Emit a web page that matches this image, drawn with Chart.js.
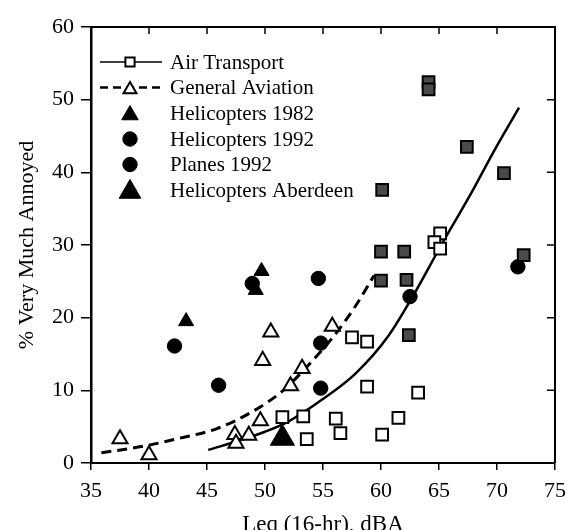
<!DOCTYPE html>
<html>
<head>
<meta charset="utf-8">
<script src="https://cdn.jsdelivr.net/npm/chart.js@4.4.1/dist/chart.umd.min.js"></script>
<style>
    html, body { margin: 0; padding: 0; background: #fff; }
    #wrap { width: 574px; height: 530px; position: relative; }
</style>
</head>
<body>
<div id="wrap"><canvas id="chart"></canvas></div>
<script>
// Values
const airX = [64.1, 64.1, 67.4, 70.6, 60.1, 65.1, 64.6, 65.1, 72.3, 60.0, 62.0, 60.0, 62.2, 62.4, 57.5, 58.8, 58.8, 63.2, 51.5, 53.3, 56.1, 61.5, 53.6, 56.5, 60.1];
const airY = [52.4, 51.4, 43.5, 39.9, 37.6, 31.6, 30.4, 29.5, 28.6, 29.1, 29.1, 25.1, 25.2, 17.6, 17.3, 16.7, 10.5, 9.7, 6.3, 6.4, 6.1, 6.2, 3.3, 4.1, 3.9];

const gaX = [37.5, 40.0, 47.4, 47.5, 48.6, 49.6, 49.8, 50.5, 52.2, 53.2, 55.8];
const gaY = [3.3, 1.1, 3.9, 2.7, 3.8, 5.8, 14.1, 18.0, 10.6, 13.0, 18.8];

const heli82X = [43.2, 49.7, 49.2];
const heli82Y = [19.5, 26.4, 23.8];

const heli92X = [42.2, 46.0, 48.9, 54.6];
const heli92Y = [16.1, 10.7, 24.7, 25.4];

const planes92X = [54.8, 54.8, 62.5, 71.8];
const planes92Y = [16.5, 10.3, 22.9, 27.0];

const aberdeenX = [51.5];
const aberdeenY = [3.4];

// fitted curves
const airFitX = [45.1, 48.0, 50.0, 52.0, 54.9, 57.8, 60.6, 62.8, 65.2, 67.8, 69.8, 71.9];
const airFitY = [1.8, 3.2, 4.3, 5.7, 8.7, 12.3, 17.4, 23.1, 30.0, 37.2, 43.1, 48.9];

const gaFitX = [35.9, 39.5, 42.6, 45.8, 48.95, 51.5, 53.7, 55.9, 57.8, 59.4];
const gaFitY = [1.4, 2.3, 3.4, 4.7, 7.1, 9.9, 13.4, 17.4, 21.6, 25.8];

const xTicks = [35, 40, 45, 50, 55, 60, 65, 70, 75];
const yTicks = [0, 10, 20, 30, 40, 50, 60];

const legendLabels = ['Air Transport', 'General Aviation', 'Helicopters 1982', 'Helicopters 1992', 'Planes 1992', 'Helicopters Aberdeen'];

// squares that look shaded in the scan
const shadedAir = [0, 1, 2, 3, 4, 8, 9, 10, 11, 12, 13];

const FONT = 'Liberation Serif, Times New Roman, serif';

function pts(xs, ys) {
    return xs.map((x, i) => ({ x: x, y: ys[i] }));
}

const markers = [
    { label: legendLabels[0], data: pts(airX, airY), pointStyle: 'rect', pointRadius: 8.3, borderWidth: 2,
      backgroundColor: ctx => shadedAir.includes(ctx.dataIndex) ? '#4a4a4a' : '#fff', legendBg: '#fff', legendR: 6.5 },
    { label: legendLabels[1], data: pts(gaX, gaY), pointStyle: 'triangle', pointRadius: 8.7, borderWidth: 2, backgroundColor: '#fff', legendR: 7.5 },
    { label: legendLabels[2], data: pts(heli82X, heli82Y), pointStyle: 'triangle', pointRadius: 8.7, borderWidth: 1, backgroundColor: '#000', legendR: 9.5 },
    { label: legendLabels[3], data: pts(heli92X, heli92Y), pointStyle: 'circle', pointRadius: 7.2, borderWidth: 1, backgroundColor: '#000', legendR: 7.2 },
    { label: legendLabels[4], data: pts(planes92X, planes92Y), pointStyle: 'circle', pointRadius: 7.2, borderWidth: 1, backgroundColor: '#000', legendR: 7.2 },
    { label: legendLabels[5], data: pts(aberdeenX, aberdeenY), pointStyle: 'triangle', pointRadius: 13.9, borderWidth: 1, backgroundColor: '#000', legendR: 12.5 }
];

const datasets = [
    {
        label: 'air-fit', data: pts(airFitX, airFitY), showLine: true, pointRadius: 0,
        borderColor: '#000', borderWidth: 2.5, cubicInterpolationMode: 'monotone', order: 2
    },
    {
        label: 'ga-fit', data: pts(gaFitX, gaFitY), showLine: true, pointRadius: 0,
        borderColor: '#000', borderWidth: 3, borderDash: [10, 6], cubicInterpolationMode: 'monotone', order: 2
    }
].concat(markers.map(m => ({
    label: m.label,
    data: m.data,
    showLine: false,
    pointStyle: m.pointStyle,
    pointRadius: m.pointRadius,
    pointHoverRadius: m.pointRadius,
    pointBorderWidth: m.borderWidth,
    pointBorderColor: '#000',
    pointBackgroundColor: m.backgroundColor,
    order: 1
})));

function drawMarker(ctx, style, r, x, y, fill, bw) {
    ctx.save();
    ctx.fillStyle = fill;
    ctx.strokeStyle = '#000';
    ctx.lineWidth = bw;
    ctx.setLineDash([]);
    ctx.beginPath();
    if (style === 'rect') {
        const s = Math.SQRT1_2 * r;
        ctx.rect(x - s, y - s, 2 * s, 2 * s);
    } else if (style === 'triangle') {
        let a = 0;
        ctx.moveTo(x + Math.sin(a) * r, y - Math.cos(a) * r);
        a += 2 * Math.PI / 3;
        ctx.lineTo(x + Math.sin(a) * r, y - Math.cos(a) * r);
        a += 2 * Math.PI / 3;
        ctx.lineTo(x + Math.sin(a) * r, y - Math.cos(a) * r);
        ctx.closePath();
    } else {
        ctx.arc(x, y, r, 0, Math.PI * 2);
    }
    ctx.fill();
    ctx.stroke();
    ctx.restore();
}

// frame, inward ticks on top/right and the legend
const framePlugin = {
    id: 'frame',
    afterDraw(chart) {
        const { ctx, chartArea: a, scales } = chart;
        ctx.save();
        ctx.strokeStyle = '#000';
        ctx.lineWidth = 2;
        ctx.beginPath();
        ctx.moveTo(a.left, a.top);
        ctx.lineTo(a.right, a.top);
        ctx.lineTo(a.right, a.bottom);
        ctx.stroke();

        ctx.lineWidth = 1.5;
        ctx.beginPath();
        xTicks.slice(1, -1).forEach(v => {
            const px = scales.x.getPixelForValue(v);
            ctx.moveTo(px, a.top);
            ctx.lineTo(px, a.top + 7);
        });
        yTicks.slice(1, -1).forEach(v => {
            const py = scales.y.getPixelForValue(v);
            ctx.moveTo(a.right, py);
            ctx.lineTo(a.right - 8, py);
        });
        ctx.stroke();

        // legend
        const rowY = [62, 87.5, 113, 139, 164.5, 190];
        ctx.font = '21px ' + FONT;
        ctx.fillStyle = '#000';
        ctx.textBaseline = 'middle';
        ctx.textAlign = 'left';
        markers.forEach((m, i) => {
            const y = rowY[i];
            if (i < 2) {
                ctx.save();
                ctx.lineWidth = i === 0 ? 1.5 : 2.5;
                ctx.setLineDash(i === 0 ? [] : [8, 5]);
                ctx.beginPath();
                ctx.moveTo(100, y);
                ctx.lineTo(162, y);
                ctx.stroke();
                ctx.restore();
            }
            const fill = typeof m.backgroundColor === 'function' ? m.legendBg : m.backgroundColor;
            drawMarker(ctx, m.pointStyle, m.legendR, 130, y + (m.pointStyle === 'triangle' ? 2 : 0), fill, m.borderWidth);
            ctx.fillText(m.label, 170, y + 1);
        });
        ctx.restore();
    }
};

new Chart(document.getElementById('chart'), {
    type: 'scatter',
    data: { datasets: datasets },
    plugins: [framePlugin],
    options: {
        responsive: true,
        maintainAspectRatio: false,
        animation: false,
        layout: { padding: { top: 27, right: 16, left: 0, bottom: 0 } },
        plugins: {
            legend: { display: false },
            tooltip: { enabled: false }
        },
        scales: {
            x: {
                type: 'linear',
                min: 35,
                max: 75,
                afterFit: scale => { scale.height = 67; },
                afterBuildTicks: scale => { scale.ticks = xTicks.map(v => ({ value: v })); },
                border: { display: true, color: '#000', width: 2 },
                grid: { drawOnChartArea: false, drawTicks: true, tickLength: 7, color: '#000', lineWidth: 1.5 },
                ticks: { color: '#000', padding: 8, font: { family: FONT, size: 22 } },
                title: {
                    display: true, text: 'Leq (16-hr), dBA', color: '#000',
                    font: { family: FONT, size: 23 }, padding: { top: 0, bottom: -9 }
                }
            },
            y: {
                type: 'linear',
                min: 0,
                max: 60,
                afterFit: scale => { scale.width = 91; },
                afterBuildTicks: scale => { scale.ticks = yTicks.map(v => ({ value: v })); },
                border: { display: true, color: '#000', width: 2.5 },
                grid: { drawOnChartArea: false, drawTicks: true, tickLength: 10, color: '#000', lineWidth: 1.5 },
                ticks: { color: '#000', padding: 7, font: { family: FONT, size: 22 } },
                title: {
                    display: true, text: '% Very Much Annoyed', color: '#000',
                    font: { family: FONT, size: 22 }, padding: { top: 14, bottom: 0 }
                }
            }
        }
    }
});
</script>
</body>
</html>
